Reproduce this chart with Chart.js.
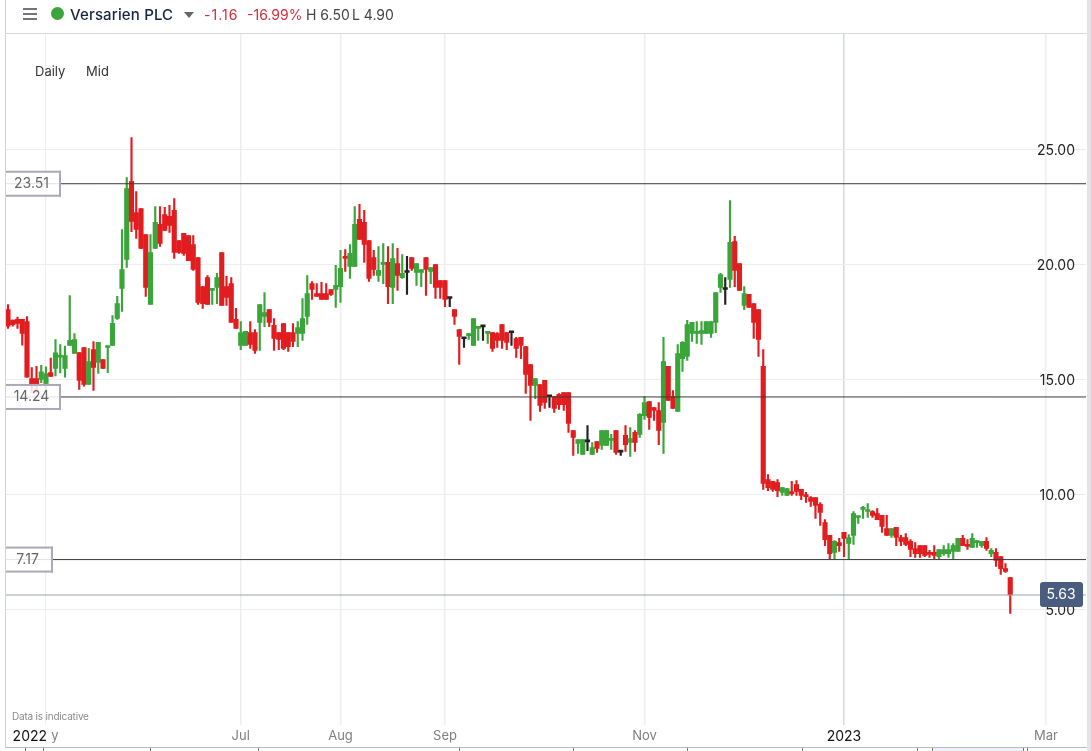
<!DOCTYPE html>
<html>
<head>
<meta charset="utf-8">
<title>Versarien PLC</title>
<script src="https://cdn.jsdelivr.net/npm/chart.js@4"></script>
<style>
  html, body { margin: 0; padding: 0; background: #fff; overflow: hidden; }
  body { width: 1091px; height: 751px; position: relative; font-family: Inter, Roboto, sans-serif; }
  canvas { position: absolute; left: 0; top: 0; }
  .abs { position: absolute; white-space: nowrap; }
  .frame { left: 5px; top: 0; width: 1081px; height: 747px; border-left: 1px solid #ccd6d8; border-bottom: 1px solid #b9bcc8; }
  .strip { left: 1087px; top: 0; width: 4px; height: 751px; background: #dde6ea; }
  .headline { left: 6px; top: 33px; width: 1081px; height: 1px; background: #d5dadb; }
  .burger { left: 23px; width: 14px; height: 2px; background: #73737f; }
  .dot { left: 51px; top: 7px; width: 13px; height: 13px; border-radius: 50%; background: #3aa53a; }
  .name { left: 70px; top: 5px; font-size: 15px; font-weight: 500; color: #16263f; letter-spacing: 0.15px; }
  .caret { left: 184px; top: 12px; width: 0; height: 0; border-left: 5px solid transparent; border-right: 5px solid transparent; border-top: 6px solid #666; }
  .quote { top: 6px; font-size: 14px; }
  .red { color: #cf2e3a; }
  .dark { color: #444; }
  .mode { top: 63px; font-size: 13px; color: #333; }
  .note { left: 12px; top: 710px; font-size: 10px; color: #8c8c8c; letter-spacing: -0.2px; }
  .nav { top: 748px; width: 1px; height: 3px; background: #777; }
  .thumb { left: 932px; top: 748px; width: 91px; height: 3px; background: #eff1f6; }
</style>
</head>
<body>
<canvas id="myChart" width="1091" height="751"></canvas>
<div class="abs frame"></div>
<div class="abs strip"></div>
<div class="abs headline"></div>
<div class="abs burger" style="top:8px"></div>
<div class="abs burger" style="top:13px"></div>
<div class="abs burger" style="top:18px"></div>
<div class="abs dot"></div>
<div class="abs name">Versarien PLC</div>
<div class="abs caret"></div>
<div class="abs quote red" style="left:204px;letter-spacing:1px">-1.16</div>
<div class="abs quote red" style="left:247px">-16.99%</div>
<div class="abs quote dark" style="left:306px">H 6.50</div>
<div class="abs quote dark" style="left:352px">L 4.90</div>
<div class="abs mode" style="left:35px">Daily</div>
<div class="abs mode" style="left:86px">Mid</div>
<div class="abs note">Data is indicative</div>
<div class="abs thumb"></div>
<script>
const opens = [
  18.04,17.58,17.61,17.61,17.52,15.04,15.04,15.00,14.78,15.30,
  15.48,15.97,15.48,16.48,16.13,16.17,16.39,14.78,16.30,15.74,
  15.87,16.39,16.48,17.65,18.96,20.22,23.61,22.26,22.43,21.30,
  18.26,20.70,21.74,22.17,22.09,22.35,21.04,21.35,21.26,20.87,
  20.30,19.04,19.43,18.87,19.00,20.52,19.04,19.17,17.61,16.48,
  16.48,17.04,17.04,17.48,17.74,18.04,17.35,17.04,17.43,17.04,
  17.04,17.00,17.00,17.74,19.17,18.74,18.74,18.74,18.91,18.91,
  19.04,20.35,19.91,19.91,21.96,21.83,21.04,20.30,19.52,20.00,
  20.09,19.00,20.04,19.43,19.65,20.30,19.65,19.65,20.30,19.70,
  20.00,19.30,19.30,18.52,18.04,17.17,16.77,16.91,16.48,17.22,
  17.29,17.00,17.04,17.00,17.39,17.04,17.03,16.78,16.83,16.43,
  15.65,14.74,14.78,14.96,14.25,14.26,14.35,14.43,14.43,12.78,
  12.22,11.74,12.29,11.74,12.30,12.13,12.13,12.35,12.78,11.84,
  12.57,12.26,12.70,12.61,13.43,14.04,13.78,13.65,13.13,15.57,
  14.26,13.61,15.91,16.00,17.00,17.00,17.00,17.00,17.00,17.48,
  19.00,18.91,19.35,21.00,20.04,18.22,18.70,18.30,18.04,15.57,
  10.65,10.57,10.52,10.09,9.96,10.13,10.43,10.22,10.00,9.87,
  9.87,9.57,8.78,8.22,7.48,7.91,8.35,7.87,8.22,9.00,
  9.35,9.26,9.26,9.17,9.09,8.52,8.22,8.57,8.13,8.13,
  7.96,7.65,7.78,7.78,7.48,7.48,7.30,7.43,7.43,7.52,
  7.52,8.09,7.83,7.70,7.91,7.78,7.96,7.43,7.48,7.30,
  6.78,6.39
];
const highs = [
  18.26,17.58,17.71,17.61,17.74,15.52,15.57,15.61,15.55,15.93,
  16.74,16.52,16.45,18.65,17.00,16.17,16.39,16.35,16.65,16.61,
  15.87,16.43,17.78,18.61,21.52,23.78,25.52,23.17,22.43,21.30,
  21.30,22.52,22.52,22.48,22.57,22.87,21.04,21.35,21.26,21.26,
  20.30,19.04,19.52,18.96,19.61,20.52,19.48,19.43,18.09,17.52,
  17.09,17.52,17.17,18.26,18.78,18.04,17.65,17.04,17.43,17.04,
  17.43,17.52,18.52,19.52,19.26,19.17,19.22,19.17,18.91,19.96,
  20.61,20.65,20.87,22.52,22.61,22.35,21.04,20.61,20.78,20.91,
  20.78,20.91,20.70,20.43,20.35,20.30,20.04,19.78,20.30,19.87,
  20.00,19.30,19.30,18.57,18.04,17.17,16.78,17.00,17.65,17.30,
  17.30,17.09,17.04,17.04,17.39,17.04,17.04,16.83,16.83,16.43,
  15.65,15.04,14.78,14.96,14.26,14.26,14.39,14.43,14.43,12.78,
  12.39,12.39,13.00,12.26,12.30,12.78,12.78,12.61,12.78,11.87,
  13.00,12.91,12.78,13.52,14.26,14.04,13.78,14.00,16.83,15.57,
  14.52,16.52,16.65,17.57,17.48,17.52,17.52,17.52,17.52,18.78,
  19.61,19.43,22.78,21.22,20.04,19.04,18.70,18.30,18.04,16.30,
  10.87,10.57,10.65,10.30,10.26,10.57,10.61,10.22,10.09,9.91,
  9.87,9.65,8.91,8.22,8.00,8.09,8.35,8.26,9.26,9.04,
  9.48,9.61,9.30,9.39,9.09,9.09,8.52,8.57,8.22,8.30,
  8.04,7.91,7.78,7.78,7.57,7.78,7.61,7.78,7.87,7.87,
  8.09,8.22,8.04,8.30,8.00,7.96,8.13,7.65,7.65,7.30,
  7.00,6.39
];
const lows = [
  17.22,17.32,17.22,16.49,15.10,14.42,14.42,14.86,14.42,15.13,
  15.15,15.29,15.10,16.48,16.13,14.57,14.71,14.78,14.52,15.26,
  15.48,15.30,16.48,17.61,17.96,19.87,21.43,21.13,20.70,18.61,
  18.26,20.70,20.78,21.48,21.39,20.26,20.48,20.39,20.17,19.74,
  18.26,18.09,18.26,18.26,18.30,18.22,18.22,17.48,17.22,16.30,
  16.48,16.35,16.13,16.26,17.30,17.30,16.26,16.30,16.30,16.22,
  16.43,16.43,16.70,17.39,18.48,18.61,18.48,18.48,18.65,18.13,
  18.35,19.70,19.39,19.91,21.09,20.09,19.26,19.52,19.26,19.17,
  18.30,18.30,18.87,19.39,18.70,19.74,19.09,19.04,18.65,19.17,
  18.52,18.52,18.17,18.17,17.39,15.65,16.39,16.74,16.48,16.70,
  16.70,16.57,16.22,16.39,16.35,16.30,16.48,15.96,15.91,14.39,
  13.22,14.17,13.61,13.74,13.78,13.57,13.70,13.65,12.70,11.70,
  11.78,11.74,11.91,11.74,11.83,11.96,12.13,11.96,11.74,11.70,
  11.87,11.65,11.87,12.48,13.26,12.83,13.22,12.17,11.78,14.09,
  13.74,13.61,15.35,15.83,16.65,16.57,16.52,17.00,16.83,17.04,
  18.78,18.26,19.00,19.04,18.87,18.04,18.13,16.78,16.00,10.22,
  10.17,10.13,9.91,9.96,9.96,9.96,9.96,9.78,9.65,9.48,
  8.96,8.65,7.78,7.20,7.20,7.52,7.30,7.20,7.83,8.74,
  8.96,9.00,9.00,8.91,8.35,8.22,8.13,7.78,7.78,7.78,
  7.30,7.26,7.26,7.30,7.26,7.20,7.20,7.35,7.26,7.20,
  7.52,7.78,7.61,7.70,7.70,7.70,7.57,7.30,6.87,6.52,
  6.61,4.83
];
const closes = [
  17.32,17.38,17.44,17.00,15.10,14.78,14.78,15.33,15.26,15.13,
  16.16,16.04,16.04,16.70,16.74,14.96,14.78,15.78,15.52,16.61,
  15.48,16.43,17.44,18.30,19.78,23.30,21.87,21.52,20.70,19.00,
  20.52,21.83,20.91,21.48,21.70,20.52,20.52,20.48,20.17,19.78,
  18.35,18.30,18.26,18.96,19.43,18.22,18.57,17.48,17.22,17.04,
  17.09,16.52,16.26,18.26,17.91,17.48,16.78,16.74,16.35,16.43,
  16.65,17.26,17.65,18.74,18.91,18.61,18.48,18.48,18.70,19.09,
  19.83,20.26,20.48,21.74,21.09,20.87,19.39,19.78,19.74,20.09,
  19.04,20.26,19.52,19.61,19.65,19.83,20.04,19.78,19.78,19.87,
  19.00,19.00,18.48,18.52,17.74,16.87,16.77,17.00,17.65,17.30,
  17.29,17.09,16.35,16.70,16.70,16.61,17.03,16.35,16.48,15.22,
  14.74,15.04,13.87,14.00,14.25,13.74,13.91,13.91,13.09,12.48,
  12.39,12.39,12.29,12.04,12.00,12.78,12.78,12.43,11.83,11.84,
  12.17,12.43,12.26,13.48,14.00,13.35,13.65,12.78,15.78,14.09,
  13.74,16.13,16.61,17.39,17.48,17.09,17.13,17.52,17.52,18.78,
  19.56,18.91,20.96,19.74,18.87,18.74,18.13,17.48,16.74,10.48,
  10.30,10.22,10.17,10.30,10.26,10.04,10.13,9.96,9.91,9.70,
  9.52,9.22,8.04,7.43,7.96,7.78,8.09,8.13,9.17,9.04,
  9.43,9.30,9.09,8.91,8.61,8.22,8.52,8.13,7.96,7.83,
  7.61,7.43,7.43,7.35,7.39,7.35,7.61,7.61,7.61,7.78,
  8.09,7.78,7.74,8.09,8.00,7.96,7.65,7.57,7.13,6.78,
  6.65,5.63
];

const levels = [23.51, 14.24, 7.17];
const lastPrice = 5.63;
const priceTicks = [5, 10, 15, 20, 25];
const dateTicks = [4.6, 8, 9.9, 49, 70, 92, 134, 176, 218.5];
const dateLabels = ["2022", "", "y", "Jul", "Aug", "Sep", "Nov", "2023", "Mar"];
const navMarks = [25, 43, 150, 258, 459, 573, 687, 802, 917, 932, 1023, 1027];

const GREEN = "#3aa53a";
const RED = "#e11d20";
const BLACK = "#222222";
const FONT = "Inter, Roboto, sans-serif";
const xMin = -0.42;
const xMax = 226.95;

for (const x of navMarks) {
  const mark = document.createElement("div");
  mark.className = "abs nav";
  mark.style.left = x + "px";
  document.body.appendChild(mark);
}

const candleColor = i => closes[i] > opens[i] ? GREEN : closes[i] < opens[i] ? RED : BLACK;
const isYear = ctx => !!ctx.tick && /^20/.test(ctx.tick.label);

const priceLine = (value, color) => ({
  type: "line",
  data: [{x: xMin, y: value}, {x: xMax, y: value}],
  borderColor: color,
  borderWidth: 1,
  pointRadius: 0,
  order: 0
});

// level boxes sit on top of the candles, the old ones are see-through
const labelBoxes = {
  id: "labelBoxes",
  afterDatasetsDraw(chart) {
    const {ctx, scales: {y}, chartArea} = chart;
    ctx.save();
    ctx.font = "14px " + FONT;
    ctx.textBaseline = "middle";
    ctx.textAlign = "center";
    for (const level of levels) {
      const py = y.getPixelForValue(level);
      const text = level.toFixed(2);
      const w = level < 10 ? 47 : 55;
      const left = chartArea.left;
      ctx.fillStyle = "rgba(255,255,255,0.85)";
      ctx.fillRect(left, py - 13, w, 24);
      ctx.fillStyle = "#a9a9b8";
      ctx.fillRect(left, py - 13, w, 2);
      ctx.fillRect(left, py + 11, w, 2);
      ctx.fillRect(left + w - 2, py - 13, 2, 26);
      ctx.fillStyle = "#666";
      ctx.fillText(text, left + w / 2 - 2, py);
    }
    const py = y.getPixelForValue(lastPrice);
    ctx.fillStyle = "#4a5d7e";
    ctx.beginPath();
    ctx.roundRect(1040, py - 13, 43, 25, 3);
    ctx.fill();
    ctx.fillStyle = "#fff";
    ctx.fillText(lastPrice.toFixed(2), 1061, py);
    ctx.restore();
  }
};

const chart = new Chart("myChart", {
  type: "bar",
  data: {
    datasets: [
      priceLine(levels[0], "#3a3a3a"),
      priceLine(levels[1], "#3a3a3a"),
      priceLine(levels[2], "#3a3a3a"),
      priceLine(lastPrice, "#98a3b3"),
      {
        label: "body",
        data: opens.map((o, i) => ({x: i, y: [o, closes[i]]})),
        backgroundColor: opens.map((_, i) => candleColor(i)),
        barThickness: 4.5,
        minBarLength: 2,
        grouped: false,
        order: 1
      },
      {
        label: "wick",
        data: highs.map((h, i) => ({x: i, y: [lows[i], h]})),
        backgroundColor: highs.map((_, i) => candleColor(i)),
        barThickness: 1.5,
        grouped: false,
        order: 2
      }
    ]
  },
  options: {
    responsive: false,
    animation: false,
    layout: {padding: {left: 6, top: 34, right: 5, bottom: 0}},
    plugins: {legend: {display: false}, tooltip: {enabled: false}},
    scales: {
      x: {
        type: "linear",
        offset: false,
        min: xMin,
        max: xMax,
        afterBuildTicks: scale => {
          scale.ticks = dateTicks.map(v => ({value: v}));
        },
        afterFit: scale => { scale.height = 26.5; },
        border: {display: false},
        grid: {
          offset: false,
          drawTicks: false,
          color: ctx => {
            const label = ctx.tick ? ctx.tick.label : "";
            if (label === "2022" || label === "y") return "rgba(0,0,0,0)";
            return label === "2023" ? "#d6d8e0" : "#eeeeee";
          },
          lineWidth: ctx => (ctx.tick && ctx.tick.label === "") ? 1 : 1.5
        },
        ticks: {
          autoSkip: false,
          maxRotation: 0,
          padding: 4,
          callback: (val, index) => dateLabels[index],
          color: ctx => isYear(ctx) ? "#111" : "#808080",
          font: ctx => ({family: FONT, size: isYear(ctx) ? 14 : 13})
        }
      },
      y: {
        position: "right",
        min: 0,
        max: 30.02,
        afterBuildTicks: scale => {
          scale.ticks = priceTicks.map(v => ({value: v}));
        },
        afterFit: scale => { scale.width = 0; },
        border: {display: false},
        grid: {drawTicks: false, color: "#eeeeee"},
        ticks: {
          mirror: true,
          padding: -11,
          labelOffset: 1,
          color: "#222",
          font: {family: FONT, size: 14},
          callback: val => val.toFixed(2)
        }
      }
    }
  },
  plugins: [labelBoxes]
});
</script>
</body>
</html>
